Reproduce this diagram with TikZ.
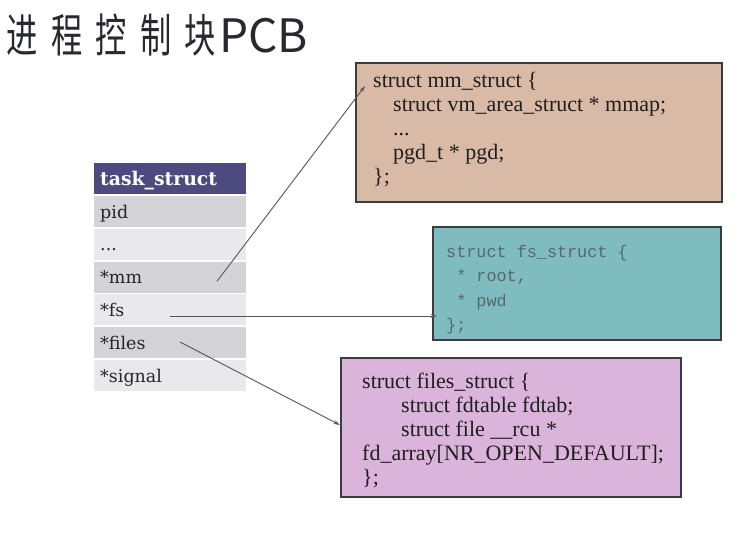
\documentclass[tikz,border=0pt]{standalone}
\usepackage{fontspec}
\usepackage{graphicx}
\setmainfont{Liberation Serif}
\newfontfamily\tabfont{DejaVu Serif}
\newfontfamily\monofont{Liberation Mono}
\newfontfamily\cjk{Noto Sans CJK SC}
\usetikzlibrary{arrows.meta,calc}
\definecolor{hdr}{RGB}{76,74,126}
\definecolor{rowdark}{RGB}{212,212,216}
\definecolor{rowlight}{RGB}{233,233,237}
\definecolor{mmfill}{RGB}{217,186,166}
\definecolor{fsfill}{RGB}{126,188,192}
\definecolor{filesfill}{RGB}{219,180,219}
\definecolor{boxline}{RGB}{60,60,60}
\definecolor{arrowcol}{RGB}{85,85,90}
\definecolor{fstext}{RGB}{88,104,108}
\definecolor{titlecol}{RGB}{40,40,48}
\tikzset{
  rowbox/.style={draw=none, anchor=north west, minimum width=152pt, minimum height=31pt,
    text width=140pt, align=left, inner xsep=6pt, inner ysep=0pt,
    text height=15pt, text depth=2pt, font=\tabfont\fontsize{17.5}{20}\selectfont},
  hdrbox/.style={rowbox, fill=hdr, text=white, font=\tabfont\bfseries\fontsize{18.8}{20}\selectfont},
  darkrow/.style={rowbox, fill=rowdark, text=black!85},
  lightrow/.style={rowbox, fill=rowlight, text=black!85},
  structbox/.style={draw=boxline, line width=1.6pt, anchor=north west, inner sep=0pt},
  codetext/.style={anchor=north west, inner sep=0pt, align=left, text=black!88,
    font=\fontsize{22}{24}\selectfont},
  monotext/.style={anchor=north west, inner sep=0pt, align=left, text=fstext,
    font=\monofont\fontsize{16.8}{24.5}\selectfont},
  ptr/.style={draw=arrowcol, line width=0.9pt, -{Stealth[length=6.5pt,width=4pt]}}
}
\begin{document}
\begin{tikzpicture}[x=1pt,y=-1pt]
\useasboundingbox[fill=white] (0,0) rectangle (738,537);

% title
\node[anchor=base west, inner sep=0pt, text=titlecol, font=\cjk\fontsize{46}{50}\selectfont] (title) at (6.5,53)
  {\scalebox{0.68}[1]{进\kern19.5pt 程\kern19.5pt 控\kern19.5pt 制\kern19.5pt 块}\kern3pt PCB};

% task_struct table
\node[hdrbox] (hdr) at (94,163) {task\_struct};
\node[darkrow] (pid) at (94,196) {pid};
\node[lightrow] (dots) at (94,228.5) {...};
\node[darkrow] (mm) at (94,261.3) {*mm};
\node[lightrow] (fs) at (94,294) {*fs};
\node[darkrow] (files) at (94,327) {*files};
\node[lightrow] (signal) at (94,360) {*signal};

% mm_struct box
\node[structbox, fill=mmfill, minimum width=366pt, minimum height=139pt] (mmbox) at (355,62) {};
\node[codetext] (mmtxt) at (373,72)
  {struct mm\_struct \{\\
   \hspace*{20pt}struct vm\_area\_struct * mmap;\\
   \hspace*{20pt}...\\
   \hspace*{20pt}pgd\_t * pgd;\\
   \};};

% fs_struct box
\node[structbox, fill=fsfill, minimum width=288pt, minimum height=113pt] (fsbox) at (432,226) {};
\node[monotext] (fstxt) at (446,245)
  {struct fs\_struct \{\\
   \hspace*{10.1pt}* root,\\
   \hspace*{10.1pt}* pwd\\
   \};};

% files_struct box
\node[structbox, fill=filesfill, minimum width=340pt, minimum height=139pt] (filesbox) at (340,357) {};
\node[codetext] (filestxt) at (362,373)
  {struct files\_struct \{\\
   \hspace*{39pt}struct fdtable fdtab;\\
   \hspace*{39pt}struct file \_\_rcu *\\
   fd\_array[NR\_OPEN\_DEFAULT];\\
   \};};

% connectors
\coordinate (mmfrom) at ($(mm.north west)+(123,20)$);
\coordinate (mmto) at ($(mmbox.north west)+(10,24)$);
\coordinate (fsfrom) at ($(fs.north west)+(76,22)$);
\coordinate (fsto) at ($(fsbox.north west)+(5,90)$);
\coordinate (filesfrom) at ($(files.north west)+(86,15)$);
\coordinate (filesto) at ($(filesbox.north west)+(0,68)$);
\draw[ptr] (mmfrom) -- (mmto);
\draw[ptr] (fsfrom) -- (fsto);
\draw[ptr] (filesfrom) -- (filesto);
\end{tikzpicture}
\end{document}
